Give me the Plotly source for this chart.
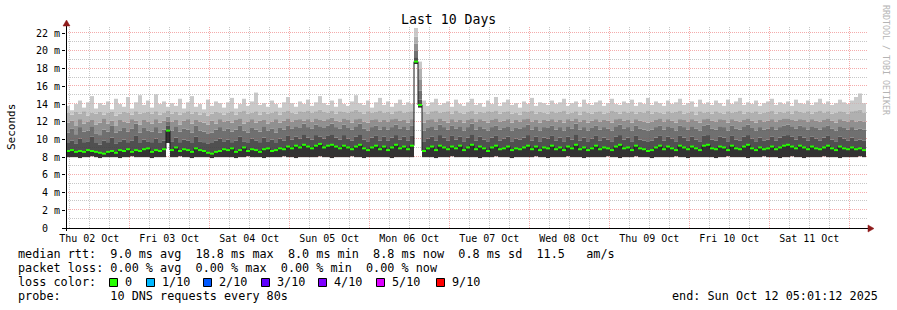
import numpy as np
import plotly.graph_objects as go
from datetime import datetime, timedelta

# ---------------- data ----------------
END = datetime(2025, 10, 12, 5, 1, 12)
START = END - timedelta(days=10)

day_labels = ["Thu 02 Oct", "Fri 03 Oct", "Sat 04 Oct", "Sun 05 Oct", "Mon 06 Oct",
              "Tue 07 Oct", "Wed 08 Oct", "Thu 09 Oct", "Fri 10 Oct", "Sat 11 Oct"]
y_tick_vals = [0, 2, 4, 6, 8, 10, 12, 14, 16, 18, 20, 22]
y_tick_text = ["0\u00a0\u00a0", "2 m", "4 m", "6 m", "8 m", "10 m", "12 m", "14 m",
               "16 m", "18 m", "20 m", "22 m"]

# lowest ping (ms)
lo = [8.0,8.0,8.0,7.9,8.0,8.0,8.1,8.0,7.9,8.0,8.0,8.0,8.0,7.9,8.0,8.0,8.1,8.0,8.0,8.0,
      8.0,7.9,8.0,8.0,8.0,9.6,8.0,8.0,8.1,8.0,8.0,7.9,8.0,8.0,8.0,8.0,7.9,8.0,8.0,8.0,
      8.0,8.0,7.9,8.0,8.0,8.1,8.0,8.0,8.0,7.9,8.0,8.0,8.0,8.0,8.1,8.0,8.0,7.9,8.0,8.0,
      8.0,8.0,8.0,8.1,8.0,8.0,7.9,8.0,8.0,8.0,8.0,8.1,8.0,8.0,7.9,8.0,8.0,8.0,8.0,8.0,
      8.0,7.9,8.0,8.0,8.0,8.0,8.0,18.6,13.6,8.0,8.0,8.0,7.9,8.0,8.0,8.0,8.1,8.0,8.0,8.0,
      8.0,8.0,8.0,7.9,8.0,8.0,8.0,8.1,8.0,8.0,8.0,7.9,8.0,8.0,8.0,8.0,8.0,8.1,8.0,8.0,
      7.9,8.0,8.0,8.0,8.0,8.1,8.0,8.0,8.0,7.9,8.0,8.0,8.0,8.0,8.0,8.1,8.0,8.0,7.9,8.0,
      8.0,8.0,8.1,8.0,8.0,8.0,7.9,8.0,8.0,8.0,8.0,8.0,8.1,8.0,8.0,7.9,8.0,8.0,8.0,8.0,
      8.0,8.0,7.9,8.0,8.0,8.1,8.0,8.0,8.0,8.0,7.9,8.0,8.0,8.0,8.1,8.0,8.0,8.0,7.9,8.0,
      8.0,8.1,8.0,8.0,7.9,8.0,8.0,8.0,8.0,8.1,8.0,8.0,8.0,7.9,8.0,8.0,8.0,8.0,8.1,8.0]

# median rtt (ms)
med = [8.7,8.8,8.6,8.7,8.6,8.8,8.7,8.6,8.5,8.4,8.6,8.7,8.5,8.8,8.7,8.9,8.6,8.8,8.7,8.9,
       9.0,8.6,8.8,8.7,8.9,11.0,8.8,9.1,8.7,8.9,8.8,8.6,9.0,8.8,8.7,8.5,8.4,8.6,8.7,8.9,
       8.8,9.0,8.6,8.8,9.1,8.7,8.9,8.8,8.6,8.9,9.0,8.7,8.8,9.0,8.9,9.2,9.0,9.3,9.1,9.4,
       9.2,9.0,9.3,9.5,9.1,9.3,9.4,9.2,9.0,9.3,9.1,8.9,9.2,9.4,9.0,8.8,9.1,9.3,8.9,9.2,
       8.8,9.1,9.4,9.0,9.2,8.9,9.3,18.8,13.9,8.7,9.0,9.2,8.8,9.3,9.1,8.9,9.2,9.0,9.3,8.8,
       9.1,9.4,8.9,9.2,9.0,8.7,9.1,9.3,8.9,9.0,9.2,8.8,9.0,8.9,9.1,9.3,8.9,9.2,8.8,9.1,
       9.0,9.3,8.9,9.1,8.8,9.2,9.0,9.4,8.9,9.1,8.8,9.0,9.3,8.9,9.1,9.0,8.8,9.2,9.4,9.0,
       9.1,8.8,9.3,9.0,8.9,8.7,8.8,9.1,9.3,8.9,9.2,9.0,8.8,9.3,9.1,8.9,9.2,9.0,8.8,9.3,
       9.4,9.0,8.9,9.2,9.1,8.8,9.3,9.0,8.9,9.2,9.4,9.0,8.8,9.1,8.9,9.0,9.2,8.9,9.1,9.3,
       9.4,9.2,9.0,9.3,9.1,8.9,9.2,9.0,8.9,9.1,9.3,9.0,8.8,9.2,9.0,8.9,9.1,8.9,9.0,8.8]

# upper smoke boundaries (ms), inner to outer
band_a = [9.6,9.9,9.5,10.1,9.7,9.8,10.3,9.6,9.4,9.9,9.7,10.2,9.5,9.8,10.0,9.7,9.9,10.4,9.6,10.0,
          9.8,9.7,10.1,9.6,9.9,11.6,9.8,10.2,9.7,10.0,9.9,9.6,10.3,9.8,9.7,9.5,9.6,9.9,10.1,9.8,
          10.0,9.7,9.9,10.3,9.8,9.6,10.1,9.9,9.7,10.2,9.8,10.0,9.6,10.1,9.9,10.4,10.0,10.3,10.1,10.6,
          10.2,10.0,10.5,10.3,10.1,10.4,10.6,10.2,10.0,10.5,10.1,9.9,10.3,10.6,10.0,9.8,10.2,10.4,9.9,10.3,
          9.9,10.2,10.5,10.0,10.3,9.9,10.4,19.3,14.5,9.8,10.1,10.3,9.9,10.5,10.2,9.9,10.4,10.0,10.3,9.8,
          10.2,10.6,9.9,10.3,10.0,9.8,10.2,10.4,9.9,10.1,10.3,9.8,10.1,10.0,10.2,10.5,9.9,10.3,9.8,10.2,
          10.1,10.4,9.9,10.2,9.8,10.3,10.0,10.6,9.9,10.2,9.8,10.1,10.4,9.9,10.2,10.0,9.8,10.3,10.5,10.0,
          10.2,9.8,10.4,10.0,9.9,9.8,9.9,10.2,10.4,9.9,10.3,10.1,9.8,10.4,10.2,9.9,10.3,10.0,9.8,10.4,
          10.5,10.0,9.9,10.3,10.2,9.8,10.4,10.0,9.9,10.3,10.5,10.1,9.8,10.2,9.9,10.0,10.3,9.9,10.2,10.4,
          10.5,10.3,10.0,10.4,10.2,9.9,10.3,10.1,9.9,10.2,10.4,10.0,9.8,10.3,10.1,9.9,10.2,9.9,10.0,9.9]

band_b = [10.8,11.2,10.6,11.4,10.9,11.0,11.5,10.7,10.5,11.1,10.9,11.6,10.8,11.0,11.3,10.9,11.2,11.8,10.8,11.3,
          11.0,10.9,11.4,10.8,11.1,12.0,11.0,11.5,10.9,11.2,11.1,10.8,11.6,11.0,10.9,10.7,10.8,11.1,11.4,11.0,
          11.2,10.9,11.1,11.6,11.0,10.8,11.3,11.1,10.9,11.5,11.0,11.2,10.8,11.3,11.1,11.6,11.2,11.5,11.3,11.8,
          11.4,11.2,11.7,11.5,11.3,11.6,11.8,11.4,11.2,11.7,11.3,11.1,11.5,11.8,11.2,11.0,11.4,11.6,11.1,11.5,
          11.1,11.4,11.7,11.2,11.5,11.1,11.6,20.0,15.5,11.0,11.3,11.5,11.1,11.7,11.4,11.1,11.6,11.2,11.5,11.0,
          11.4,11.8,11.1,11.5,11.2,11.0,11.4,11.6,11.1,11.3,11.5,11.0,11.3,11.2,11.4,11.7,11.1,11.5,11.0,11.4,
          11.3,11.6,11.1,11.4,11.0,11.5,11.2,11.8,11.1,11.4,11.0,11.3,11.6,11.1,11.4,11.2,11.0,11.5,11.7,11.2,
          11.4,11.0,11.6,11.2,11.1,11.0,11.1,11.4,11.6,11.1,11.5,11.3,11.0,11.6,11.4,11.1,11.5,11.2,11.0,11.6,
          11.7,11.2,11.1,11.5,11.4,11.0,11.6,11.2,11.1,11.5,11.7,11.3,11.0,11.4,11.1,11.2,11.5,11.1,11.4,11.6,
          11.7,11.5,11.2,11.6,11.4,11.1,11.5,11.3,11.1,11.4,11.6,11.2,11.0,11.5,11.3,11.1,11.4,11.1,11.2,11.1]

band_c = [11.9,12.1,11.6,12.3,11.8,12.0,12.2,11.7,11.9,12.4,11.8,12.1,11.6,12.2,12.0,11.9,12.3,12.1,11.7,12.2,
          12.0,11.8,12.3,11.9,12.1,12.6,12.0,12.2,11.7,12.1,12.3,11.8,12.2,12.0,11.9,11.7,12.1,11.8,12.3,12.0,
          12.1,11.9,12.2,12.4,11.8,12.0,12.3,11.9,12.1,12.2,11.8,12.0,12.3,11.9,12.1,12.4,12.0,12.2,12.3,12.1,
          12.3,12.0,12.4,12.2,12.1,12.3,12.5,12.1,12.0,12.4,12.2,11.9,12.3,12.4,12.0,11.9,12.2,12.3,12.0,12.2,
          12.0,12.3,12.4,12.1,12.2,11.9,12.3,20.8,16.8,11.9,12.2,12.3,12.0,12.4,12.1,11.9,12.3,12.0,12.2,11.9,
          12.2,12.4,12.0,12.3,12.1,11.9,12.2,12.4,12.0,12.1,12.3,11.9,12.2,12.0,12.3,12.4,12.0,12.2,11.9,12.2,
          12.1,12.3,12.0,12.2,11.9,12.3,12.1,12.4,12.0,12.2,11.9,12.1,12.3,12.0,12.2,12.1,11.9,12.3,12.4,12.1,
          12.2,11.9,12.3,12.1,12.0,11.9,12.0,12.2,12.4,12.0,12.3,12.1,11.9,12.3,12.2,12.0,12.3,12.1,11.9,12.3,
          12.4,12.1,12.0,12.3,12.2,11.9,12.3,12.1,12.0,12.2,12.4,12.1,11.9,12.2,12.0,12.1,12.3,12.0,12.2,12.4,
          12.4,12.2,12.1,12.3,12.2,12.0,12.3,12.1,12.0,12.2,12.4,12.1,11.9,12.3,12.1,12.0,12.2,12.0,12.1,12.0]

band_d = [13.0,12.8,13.1,12.9,13.2,12.7,13.0,12.9,13.1,12.8,13.0,13.2,12.7,12.9,13.1,13.0,12.8,13.2,12.9,13.0,
          13.1,12.9,13.2,12.8,13.0,13.3,12.9,13.1,12.8,13.0,13.2,12.9,13.1,12.8,13.0,12.7,12.9,13.1,13.0,12.8,
          13.0,13.2,12.8,13.1,13.3,12.9,13.0,13.2,12.8,13.1,12.9,13.0,13.2,12.8,13.1,13.3,13.0,12.9,13.2,13.1,
          13.3,13.0,13.2,13.4,13.1,13.0,13.3,12.9,13.2,13.1,13.0,13.2,13.4,13.1,12.9,13.2,13.0,13.1,13.3,13.0,
          13.1,12.9,13.2,13.3,13.0,13.1,13.2,21.6,18.0,13.1,12.9,13.2,13.3,13.0,13.1,13.2,12.9,13.3,13.0,12.9,
          13.1,13.3,12.9,13.1,13.0,13.2,13.1,13.3,12.9,13.1,13.2,12.9,13.0,12.8,13.2,13.1,13.3,12.9,13.1,13.0,
          12.9,13.2,13.0,13.1,13.3,12.9,13.0,13.2,12.8,13.2,13.0,12.9,13.1,13.2,12.9,13.0,13.3,13.1,12.9,13.2,
          13.0,13.2,12.9,13.1,13.0,13.3,12.9,13.1,13.0,12.9,13.2,13.0,13.1,13.3,12.9,13.0,13.2,12.8,13.2,13.0,
          13.1,12.9,13.2,13.0,12.9,13.2,13.0,13.1,13.3,12.9,13.1,13.0,13.2,12.9,13.0,13.1,13.3,12.9,13.1,13.0,
          13.2,12.9,13.3,13.1,13.0,13.2,12.9,13.1,13.3,13.0,13.2,12.9,13.0,13.2,13.1,12.9,13.2,13.3,13.4,13.0]

# highest ping (ms)
top = [13.8,13.3,14.0,14.4,13.6,14.2,14.9,13.5,14.1,13.9,14.3,13.4,14.6,14.0,13.7,14.8,13.5,14.2,15.0,13.9,
       14.4,13.6,15.1,14.0,14.3,13.7,14.1,13.8,14.6,13.5,14.2,14.9,13.7,14.0,13.4,14.5,13.8,14.3,14.1,13.6,
       14.2,14.7,13.5,14.0,14.6,13.8,14.3,15.3,13.9,14.1,13.7,14.4,14.0,13.6,14.2,14.8,14.1,13.7,14.3,14.0,
       14.5,13.8,14.2,14.9,14.1,13.9,14.4,13.7,14.6,14.0,13.8,14.3,15.0,14.1,13.9,14.4,13.6,14.2,14.7,13.9,
       14.3,13.7,14.1,14.5,13.9,14.2,14.0,22.6,18.8,14.4,13.8,14.2,14.6,13.9,14.1,14.3,13.7,14.5,14.0,13.8,
       14.2,14.6,13.9,14.1,13.7,14.4,14.0,14.8,13.8,14.2,14.5,13.9,14.1,13.6,14.3,14.0,14.7,13.8,14.2,14.1,
       13.9,14.4,14.0,14.2,14.6,13.8,14.1,14.3,13.7,14.5,14.0,13.9,14.2,14.4,13.8,14.1,14.6,14.0,13.9,14.3,
       14.1,14.5,13.8,14.2,14.0,14.7,13.9,14.3,14.1,13.8,14.4,14.0,14.2,14.6,13.9,14.1,14.3,13.7,14.5,14.0,
       14.2,13.9,14.4,14.1,13.8,14.5,14.0,14.3,14.7,13.9,14.2,14.0,14.4,13.8,14.1,14.3,14.6,13.9,14.2,14.0,
       14.3,13.8,14.5,14.1,14.0,14.4,13.9,14.2,14.6,14.0,14.3,13.9,14.1,14.5,14.2,14.0,14.4,14.8,15.2,14.1]

legend_line1 = "median rtt:  9.0 ms avg  18.8 ms max  8.0 ms min  8.8 ms now  0.8 ms sd  11.5   am/s"
legend_line2 = "packet loss: 0.00 % avg  0.00 % max  0.00 % min  0.00 % now"
loss_labels = ["0", "1/10", "2/10", "3/10", "4/10", "5/10", "9/10"]
loss_colors = ["#26ff00", "#00b8ff", "#0059ff", "#5e00ff", "#7e00ff", "#dd00ff", "#ff0000"]
probe_text = "probe:       10 DNS requests every 80s"
end_text = "end: Sun Oct 12 05:01:12 2025"

# ---------------- geometry / style ----------------
W, H = 897, 310
L, R, T, B = 66, 31, 26, 82
PW, PH = W - L - R, H - T - B
YMAX = 22.82
MONO = "DejaVu Sans Mono"


def px(xp):
    return (xp - L) / PW


def py(yp):
    return (T + PH - yp) / PH


def x_pix(t):
    return L + (t - START).total_seconds() / (END - START).total_seconds() * PW


def y_pix(v):
    return T + PH - v / YMAX * PH


n = len(med)
step = (END - START) / n
starts = [START + i * step for i in range(n)]
centers = [s + step / 2 for s in starts]
width_ms = step.total_seconds() * 1000.0

fig = go.Figure()

layers = [(lo, med, "#333333"), (med, band_a, "#505050"), (band_a, band_b, "#707070"),
          (band_b, band_c, "#909090"), (band_c, band_d, "#b0b0b0"), (band_d, top, "#c9c9c9")]
for lower, upper, col in layers:
    lower_a = np.array(lower, dtype=float)
    upper_a = np.array(upper, dtype=float)
    fig.add_trace(go.Bar(x=centers, y=np.clip(upper_a - lower_a, 0, None), base=lower_a,
                         width=width_ms, marker=dict(color=col, line=dict(width=0)),
                         hoverinfo="skip", showlegend=False))

# median step line (dark connectors) + green loss-coloured segments
fig.add_trace(go.Scatter(x=starts + [END], y=med + [med[-1]], mode="lines",
                         line=dict(shape="hv", color="#1a1a1a", width=1),
                         hoverinfo="skip", showlegend=False))
gx, gy = [], []
for s, m in zip(starts, med):
    gx += [s, s + step, None]
    gy += [m, m, None]
fig.add_trace(go.Scatter(x=gx, y=gy, mode="lines", line=dict(color=loss_colors[0], width=2),
                         hoverinfo="skip", showlegend=False))

shapes = []


def grid_line(kind, pos, color, layer):
    if kind == "v":
        shapes.append(dict(type="line", xref="paper", yref="paper", x0=px(pos), x1=px(pos),
                           y0=0, y1=1, line=dict(color=color, width=1, dash="1px,1px"),
                           layer=layer))
    else:
        shapes.append(dict(type="line", xref="paper", yref="paper", x0=0, x1=px(L + PW + 2),
                           y0=py(pos), y1=py(pos), line=dict(color=color, width=1, dash="1px,1px"),
                           layer=layer))


# dotted grid: solid colour underneath, faint tint over the smoke (pixel-snapped)
grid_cols = {"major": ("#f3bcbc", "rgba(255,0,0,0.09)"), "minor": ("#d4d4d4", "rgba(0,0,0,0.06)")}
t = datetime(2025, 10, 2, 6, 0, 0)
while t < END:
    kind = "major" if t.hour == 0 else "minor"
    xp = round(x_pix(t)) + 0.5
    grid_line("v", xp, grid_cols[kind][0], "below")
    grid_line("v", xp, grid_cols[kind][1], "above")
    t += timedelta(hours=6)
for v in range(1, 23):
    kind = "major" if v % 2 == 0 else "minor"
    yp = round(y_pix(v)) - 0.5
    grid_line("h", yp, grid_cols[kind][0], "below")
    grid_line("h", yp, grid_cols[kind][1], "above")

# axis lines and arrows
axis_col = "#000000"
arrow_col = "#8e1b1b"
shapes.append(dict(type="line", xref="paper", yref="paper", x0=px(62), x1=px(870),
                   y0=py(228.5), y1=py(228.5), line=dict(color=axis_col, width=1), layer="above"))
shapes.append(dict(type="line", xref="paper", yref="paper", x0=px(66.5), x1=px(66.5),
                   y0=py(231), y1=py(24), line=dict(color=axis_col, width=1), layer="above"))
shapes.append(dict(type="path", xref="paper", yref="paper",
                   path=f"M {px(868)},{py(225)} L {px(874)},{py(228.5)} L {px(868)},{py(232)} Z",
                   fillcolor=arrow_col, line=dict(color=arrow_col, width=0.5), layer="above"))
shapes.append(dict(type="path", xref="paper", yref="paper",
                   path=f"M {px(63)},{py(26)} L {px(66.5)},{py(20)} L {px(70)},{py(26)} Z",
                   fillcolor=arrow_col, line=dict(color=arrow_col, width=0.5), layer="above"))

annotations = []


def txt(x, y, s, size=11.8, color="#000000", anchor="left", angle=0):
    annotations.append(dict(x=px(x), y=py(y), xref="paper", yref="paper", text=s.replace(" ", "\u00a0"),
                            showarrow=False, xanchor=anchor, yanchor="middle", textangle=angle,
                            font=dict(family=MONO, size=size, color=color)))


txt(448, 19.5, "Last 10 Days", size=13.2, anchor="center")
txt(11, 127, "Seconds", size=11, anchor="center", angle=-90)
txt(886, 60, "RRDTOOL / TOBI OETIKER", size=8.3, color="#b4b4b4", anchor="center", angle=90)
txt(16, 254, legend_line1)
txt(16, 268, legend_line2)
txt(16, 282, "loss color:")
sq_x = [109, 146, 203, 261, 318, 376, 436]
for sx, lab, col in zip(sq_x, loss_labels, loss_colors):
    shapes.append(dict(type="rect", xref="paper", yref="paper", x0=px(sx + 0.5), x1=px(sx + 8.5),
                       y0=py(286.5), y1=py(278.5), fillcolor=col, line=dict(color="#000000", width=1)))
    txt(sx + 14, 282, lab)
txt(16, 296, probe_text)
txt(880, 296, end_text, anchor="right")

noons = [datetime(2025, 10, 2 + i, 12, 0, 0) for i in range(len(day_labels))]

fig.update_layout(
    width=W, height=H, margin=dict(l=L, r=R, t=T, b=B, pad=0),
    paper_bgcolor="white", plot_bgcolor="white", barmode="overlay",
    showlegend=False, hovermode=False, shapes=shapes, annotations=annotations,
    xaxis=dict(type="date", range=[START, END], tickmode="array", tickvals=noons,
               ticktext=day_labels, showgrid=False, zeroline=False, showline=False,
               ticks="", ticklabelstandoff=3,
               tickfont=dict(family=MONO, size=10, color="#000000"), fixedrange=True),
    yaxis=dict(range=[0, YMAX], tickmode="array", tickvals=y_tick_vals, ticktext=y_tick_text,
               showgrid=False, zeroline=False, showline=False, ticks="outside", ticklen=3,
               tickcolor="#000000", tickfont=dict(family=MONO, size=10, color="#000000"),
               fixedrange=True),
)

fig.write_html("out.html", config={"displayModeBar": False})
